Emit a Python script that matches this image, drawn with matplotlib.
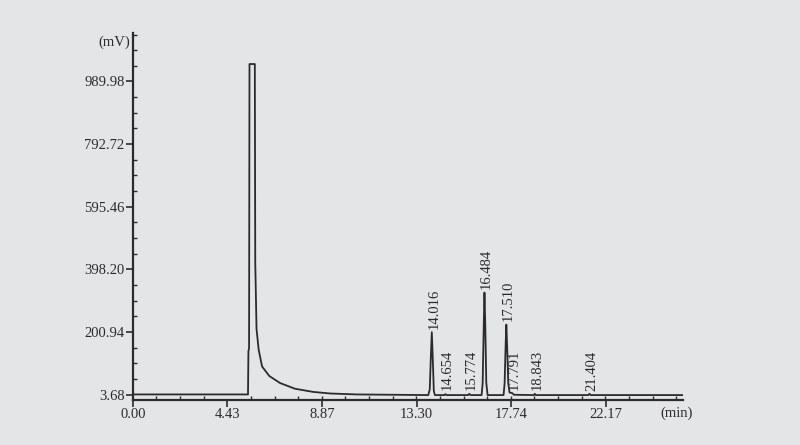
import matplotlib
matplotlib.use("Agg")
from matplotlib import pyplot as plt
from matplotlib.ticker import AutoMinorLocator

# chromatogram trace (min, mV)
trace_t = [0.00, 5.40, 5.42, 5.45, 5.47, 5.72, 5.74, 5.80, 5.90, 6.06, 6.40, 6.90, 7.60,
           8.45, 9.25, 10.50, 13.85, 13.92, 13.97, 14.016, 14.06, 14.11, 14.16, 14.60,
           14.654, 14.70, 15.72, 15.774, 15.83, 16.35, 16.40, 16.45, 16.484, 16.52, 16.57,
           16.63, 17.38, 17.43, 17.48, 17.510, 17.55, 17.60, 17.66, 17.791, 17.86, 18.80,
           18.843, 18.89, 21.35, 21.404, 21.46, 25.80]
trace_v = [4, 4, 140, 150, 1045, 1045, 420, 210, 145, 92, 62, 40, 22,
           12, 7, 4, 2, 20, 120, 200, 120, 15, 2, 2,
           5, 2, 2, 6, 2, 2, 40, 220, 325, 230, 40,
           2, 2, 40, 170, 224, 150, 40, 10, 8, 3, 2,
           6, 2, 2, 6, 2, 2]

# labelled peaks
peak_times = [14.016, 14.654, 15.774, 16.484, 17.510, 17.791, 18.843, 21.404]
peak_labels = ["14.016", "14.654", "15.774", "16.484", "17.510", "17.791", "18.843", "21.404"]
label_base = [200, 8, 8, 325, 224, 8, 8, 5]

x_ticks = [0.00, 4.43, 8.87, 13.30, 17.74, 22.17]
y_ticks = [3.68, 200.94, 398.20, 595.46, 792.72, 989.98]

ink = "#2b2b2b"
paper = "#e3e5e7"
plt.rcParams["font.family"] = ["Liberation Serif", "DejaVu Serif"]

fig = plt.figure(figsize=(8, 4.45), dpi=100, facecolor=paper)
ax = fig.add_axes([0.166, 0.101, 0.688, 0.825])
ax.set_facecolor(paper)

ax.plot(trace_t, trace_v, color=ink, lw=1.3)

for t, lab, b in zip(peak_times, peak_labels, label_base):
    ax.text(t + 0.1, b + 10, lab, rotation=90, ha="center", va="bottom", fontsize=10.5, color=ink)

ax.set_xlim(0, 25.8)
ax.set_ylim(-13.7, 1143)
ax.set_xticks(x_ticks)
ax.set_xticklabels(["%.2f" % v for v in x_ticks])
ax.set_yticks(y_ticks)
ax.set_yticklabels(["%.2f" % v for v in y_ticks])
ax.xaxis.set_minor_locator(AutoMinorLocator(4))
ax.yaxis.set_minor_locator(AutoMinorLocator(4))

ax.tick_params(which="major", direction="out", length=5, width=1.2, colors=ink,
               labelsize=10.5, labelcolor=ink, pad=1)
ax.tick_params(which="minor", direction="in", length=3, width=1, colors=ink)

for side in ["top", "right"]:
    ax.spines[side].set_visible(False)
for side in ["left", "bottom"]:
    ax.spines[side].set_color(ink)
    ax.spines[side].set_linewidth(1.6)

fig.text(0.163, 0.905, "(mV)", ha="right", va="center", fontsize=10.5, color=ink)
fig.text(0.825, 0.072, "(min)", ha="left", va="center", fontsize=10.5, color=ink)

fig.savefig("out.png", dpi=100, facecolor=paper)
